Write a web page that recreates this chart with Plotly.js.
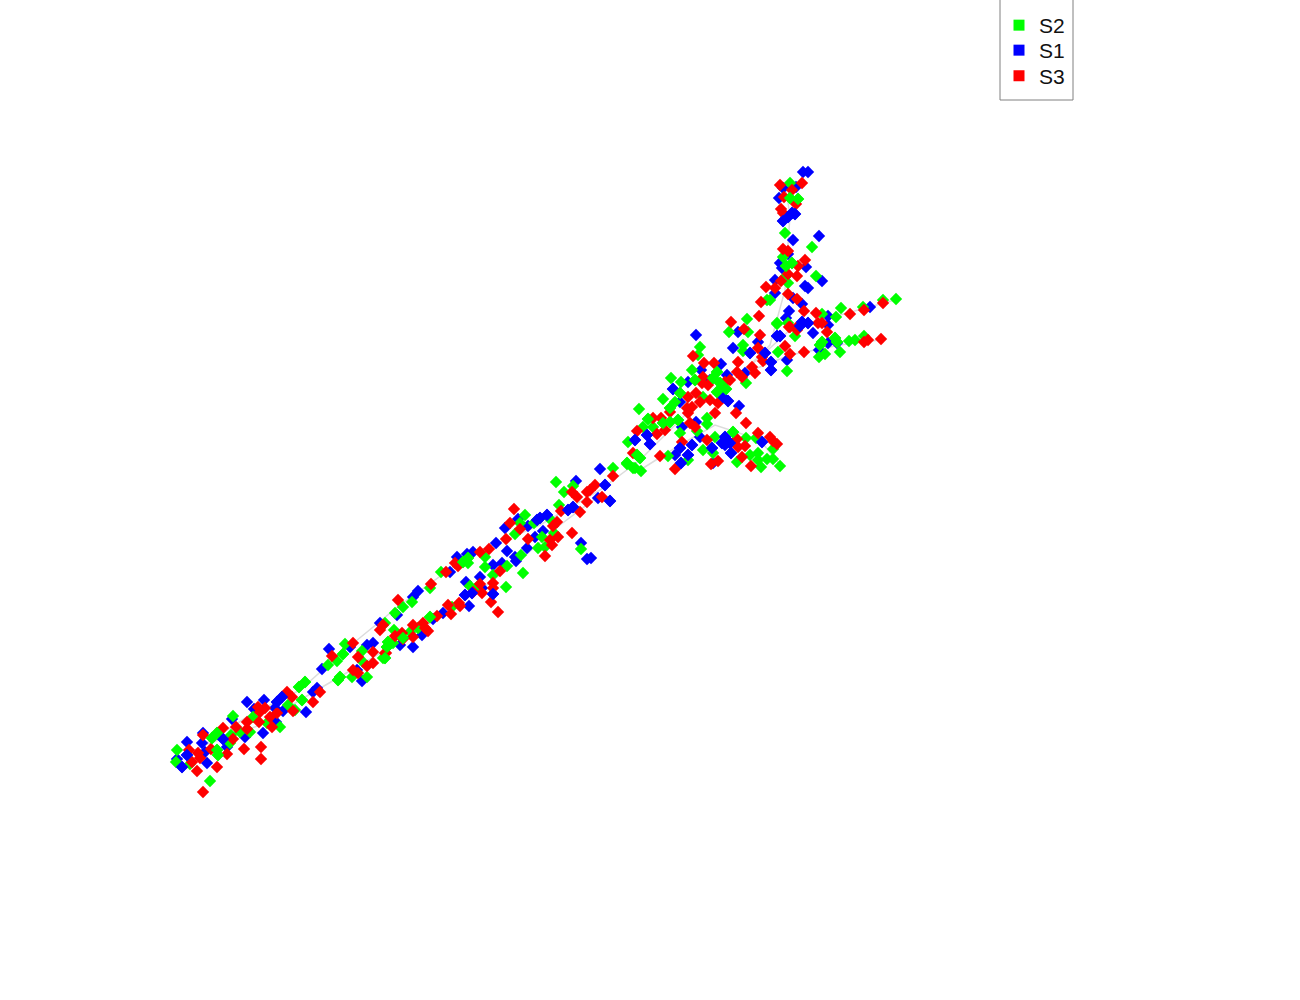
<!DOCTYPE html>
<html>
<head>
<meta charset="utf-8">
<script src="https://cdn.plot.ly/plotly-3.0.1.min.js"></script>
<style>html,body{margin:0;padding:0;background:#fff}</style>
</head>
<body>
<div id="chart" style="width:1300px;height:1000px"></div>
<script>
const seriesNames = ["S2", "S1", "S3"];
const seriesColors = {S2: "#00ff00", S1: "#0000ff", S3: "#ff0000"};

const s1X = [329,322,247,264,254,277,282,275,283,306,313,232,276,263,245,223,227,203,202,187,205,187,177,182,207,362,350,367,373,357,317,
600,576,605,610,598,573,568,547,540,537,528,505,518,543,535,527,496,507,515,516,502,493,581,587,591,473,467,457,480,466,493,482,472,465,469,418,413,397,433,443,413,400,422,380,450,
696,738,733,780,777,758,750,765,771,771,787,721,701,727,745,673,688,710,723,728,739,696,680,682,635,647,650,692,680,688,681,675,700,712,713,725,722,730,731,762,725,
808,803,796,783,779,792,795,788,783,793,819,788,780,782,806,775,805,808,822,775,802,793,789,786,802,808,800,828,828,813,870,837,819,828];
const s1Y = [649,669,702,700,709,702,697,708,711,712,692,719,722,733,737,739,747,733,743,742,752,755,759,767,763,681,647,645,643,670,688,
469,481,485,501,498,507,510,515,518,520,526,528,519,531,537,548,543,551,557,561,563,565,543,559,558,552,554,557,577,582,594,588,593,595,606,591,597,615,619,613,647,645,635,623,572,
335,332,348,336,336,342,353,353,362,370,360,364,370,375,373,389,382,380,397,401,406,422,402,427,440,435,444,445,448,455,463,455,437,448,463,437,443,443,453,442,445,
172,172,187,188,198,213,214,217,221,240,236,254,263,268,267,280,286,288,281,293,304,298,311,318,322,323,326,316,325,333,307,343,350,343];

const s2X = [345,343,337,328,340,338,352,367,363,362,385,387,393,305,299,302,288,295,253,267,280,250,240,233,231,217,212,217,218,177,176,190,210,230,
556,564,573,627,635,613,559,550,525,520,534,515,554,542,538,545,581,521,523,507,485,485,493,506,468,463,468,441,430,412,403,395,385,477,470,430,452,418,410,394,403,388,387,383,
729,748,777,795,743,743,700,698,787,692,717,671,681,695,713,720,726,746,680,717,703,663,675,670,639,707,707,670,678,663,653,643,648,680,697,628,640,637,627,633,641,668,703,715,713,733,746,756,773,750,758,758,767,773,761,780,737,688,
790,790,798,785,812,783,786,792,785,816,788,770,767,747,777,788,822,836,841,863,883,896,835,837,822,820,849,855,864,840,825,819,778];
const s2Y = [644,654,661,665,677,680,677,677,662,651,658,647,643,682,687,700,705,710,717,723,727,732,732,716,735,733,738,750,755,750,762,764,781,743,
482,492,486,464,468,468,505,519,515,523,523,534,533,537,548,547,549,555,573,566,557,567,575,587,558,562,563,572,588,602,607,613,623,587,586,617,607,628,632,630,638,642,647,658,
332,332,324,336,345,351,347,355,371,370,372,378,382,380,378,383,389,383,393,392,397,399,402,408,409,418,424,422,420,423,427,427,419,433,431,442,458,455,463,468,471,456,450,437,453,432,438,438,449,455,453,460,459,459,467,466,462,460,
183,198,199,233,247,257,266,263,277,276,283,300,300,319,323,323,314,317,308,307,300,299,338,342,342,345,341,340,336,352,354,357,352];

const s3X = [332,353,358,373,373,367,353,358,386,320,287,292,258,265,260,270,277,259,293,313,247,247,272,236,223,233,203,211,198,200,189,192,197,217,227,244,261,261,203,
514,510,520,506,528,552,558,550,545,572,561,557,553,580,572,577,587,587,595,590,602,613,489,480,455,458,446,431,398,500,493,493,480,473,482,491,498,459,460,448,451,437,423,425,413,428,402,395,403,383,380,413,385,
731,744,760,790,796,785,804,790,758,762,763,752,755,738,737,730,725,742,693,704,714,703,708,702,696,688,700,692,687,710,718,688,690,695,715,736,670,653,661,665,657,637,633,660,675,682,707,746,737,738,745,742,711,718,751,758,770,773,777,
780,802,792,784,796,781,783,783,788,805,798,788,797,781,775,766,788,797,761,804,816,759,789,797,818,822,827,850,864,883,864,868,881];
const s3Y = [656,643,657,652,663,666,670,673,653,692,692,697,707,708,712,717,713,722,711,702,722,729,727,727,728,739,735,749,753,758,750,762,771,767,754,749,747,759,792,
509,523,529,539,539,545,537,540,556,533,511,522,526,512,492,497,502,492,485,490,497,476,549,552,563,566,572,584,600,571,583,588,584,592,593,602,612,603,606,605,614,616,623,628,625,631,633,636,639,625,630,637,653,
322,329,335,327,328,346,352,354,348,357,361,367,373,362,372,380,382,377,356,363,363,377,385,383,393,397,402,407,408,400,403,413,423,427,413,413,412,418,418,430,434,431,453,456,469,442,440,423,439,447,446,457,464,461,466,433,437,441,444,
185,183,190,197,204,209,213,249,251,260,266,274,276,281,288,287,294,299,302,311,313,316,327,330,323,323,332,314,310,303,342,340,339];

const s1OverX = [725,722,730,731,692,688,681,680,712,762,650,647,635,673,723,728,771,771,750,765,780,777,802,808,800,792,795,788,783,493,472,465,537,540,547,573,568,605,610,223,187,182,277,282];
const s1OverY = [437,443,443,453,445,455,463,448,448,442,444,435,440,389,397,401,362,370,353,353,336,336,322,323,326,213,214,217,221,594,593,595,520,518,515,507,510,485,501,739,755,767,702,697];
const s2OverX = [717,713,720,726,695,680,717,670,670,663,678,648,733,640,637,627,212,217,218,217,302,299,305,468,463,430,403,388,387,385,343,340,338,837,835,822,820,790,798,786,792];
const s2OverY = [372,378,383,389,380,393,392,408,422,423,420,419,432,458,455,463,738,733,755,750,700,687,682,558,562,617,638,642,647,658,654,677,680,342,338,342,345,198,199,266,263];

const linkX = [178,215,250,300,345,400,470,540,600,640,690,740,770,785,790,785,null,
               205,260,300,360,420,480,520,560,600,null,
               640,680,715,760,780,null,
               740,790,840,895,null,
               740,790,840,880];
const linkY = [760,738,715,690,650,605,555,525,490,460,410,375,345,290,215,185,null,
               745,725,700,665,630,590,560,525,495,null,
               470,445,425,440,465,null,
               375,330,315,300,null,
               375,355,345,340];

const legendBox = {x0: 1000, x1: 1073, y0: -2, y1: 100};

const traces = [{
  x: linkX, y: linkY, type: "scatter", mode: "lines", showlegend: false, hoverinfo: "skip",
  line: {color: "#dcdcdc", width: 1.5}, connectgaps: false
}];
[["S1", s1X, s1Y], ["S2", s2X, s2Y], ["S3", s3X, s3Y], ["S1", s1OverX, s1OverY], ["S2", s2OverX, s2OverY]].forEach(function (t) {
  traces.push({
    x: t[1], y: t[2], type: "scatter", mode: "markers", name: t[0], showlegend: false,
    marker: {symbol: "diamond", size: 9.5, color: seriesColors[t[0]], line: {width: 0}}
  });
});
const legendIds = ["legend", "legend2", "legend3"];
const legendTops = [5, 30, 55.5];
const layout = {
  width: 1300, height: 1000,
  margin: {l: 0, r: 0, t: 0, b: 0},
  paper_bgcolor: "#ffffff", plot_bgcolor: "#ffffff",
  xaxis: {visible: false, range: [0, 1300], fixedrange: true},
  yaxis: {visible: false, range: [1000, 0], fixedrange: true},
  showlegend: true,
  shapes: [{
    type: "rect", xref: "x", yref: "y",
    x0: legendBox.x0, x1: legendBox.x1, y0: legendBox.y0, y1: legendBox.y1,
    line: {color: "#808080", width: 1}, fillcolor: "rgba(0,0,0,0)"
  }]
};
seriesNames.forEach(function (n, i) {
  traces.push({
    x: [-100], y: [-100], type: "scatter", mode: "markers", name: n, showlegend: true, legend: i ? "legend" + (i + 1) : "legend",
    marker: {symbol: "square", size: 11, color: seriesColors[n], line: {width: 0}}
  });
  layout[legendIds[i]] = {
    x: 999 / 1300, xanchor: "left", y: 1 - legendTops[i] / 1000, yanchor: "top",
    bgcolor: "rgba(0,0,0,0)", borderwidth: 0, itemwidth: 30,
    font: {family: "Liberation Sans, Arial, sans-serif", size: 21, color: "#111111"}
  };
});
Plotly.newPlot("chart", traces, layout, {displayModeBar: false, staticPlot: true});
</script>
</body>
</html>
